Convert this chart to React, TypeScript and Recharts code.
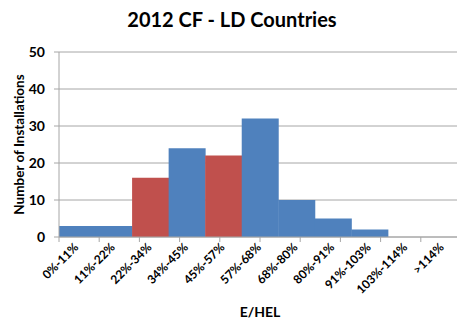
import React from 'react';
import { BarChart, Bar, XAxis, YAxis, CartesianGrid, Cell } from 'recharts';

const categories = ['0%-11%', '11%-22%', '22%-34%', '34%-45%', '45%-57%', '57%-68%', '68%-80%', '80%-91%', '91%-103%', '103%-114%', '>114%'];
const installations = [3, 3, 16, 24, 22, 32, 10, 5, 2, 0, 0];
const highlighted = [false, false, true, false, true, false, false, false, false, false, false];
const yTicks = [0, 10, 20, 30, 40, 50];
const boundaryTicks = [0, 1, 2, 3, 4, 5, 6, 7, 8, 9, 10, 11];

const data = categories.map((c, i) => ({ category: c, count: installations[i], hl: highlighted[i] }));

const FONT = 'Lato, "Open Sans", sans-serif';
const BLUE = '#4F81BD';
const RED = '#C0504D';
const GRID = '#A6A6A6';
const TEXT = '#000000';

const XTick = (props: any) => {
  const { x, y, payload } = props;
  return (
    <g transform={`translate(${x + 2},${y + 10})`}>
      <text x={0} y={0} transform="rotate(-45)" textAnchor="end" fontFamily={FONT} fontWeight={700} fontSize={12} fill={TEXT}>
        {payload.value}
      </text>
    </g>
  );
};

const NoTick = () => <g />;

const YLabel = (props: any) => {
  const vb = props.viewBox || { y: 52, height: 185 };
  const cy = vb.y + vb.height / 2;
  return (
    <text x={24} y={cy} transform={`rotate(-90, 24, ${cy})`} textAnchor="middle" fontFamily={FONT} fontWeight={700} fontSize={13.5} fill={TEXT}>
      Number of Installations
    </text>
  );
};

export default function App() {
  return (
    <div style={{ position: 'absolute', left: 0, top: 0, width: 457, height: 322, overflow: 'hidden', background: '#fff' }}>
      <div style={{ position: 'absolute', left: 0, top: 9, width: 464, textAlign: 'center', fontFamily: FONT, fontWeight: 700, fontSize: 20, lineHeight: '20px', color: TEXT, zIndex: 2 }}>
        2012 CF - LD Countries
      </div>
      <BarChart width={470} height={322} data={data} margin={{ top: 52, right: 9, bottom: 0, left: 0 }} barCategoryGap={0} barGap={0}>
        <CartesianGrid vertical={false} stroke={GRID} xAxisId="b_cat" />
        <XAxis
          xAxisId="a_grid"
          type="number"
          domain={[0, 11]}
          ticks={boundaryTicks}
          allowDataOverflow
          height={1}
          tick={<NoTick />}
          tickSize={5}
          tickLine={{ stroke: GRID }}
          axisLine={{ stroke: GRID }}
        />
        <XAxis
          xAxisId="b_cat"
          dataKey="category"
          height={84}
          interval={0}
          tickSize={0}
          tickMargin={0}
          tickLine={false}
          axisLine={false}
          tick={<XTick />}
          label={{ value: 'E/HEL', position: 'insideBottom', offset: 5, fontFamily: FONT, fontWeight: 700, fontSize: 14, fill: TEXT }}
        />
        <YAxis
          width={59}
          domain={[0, 50]}
          ticks={yTicks}
          interval={0}
          tickSize={5}
          tickMargin={9}
          tickLine={{ stroke: GRID }}
          axisLine={{ stroke: GRID }}
          tick={{ fontFamily: FONT, fontWeight: 700, fontSize: 14, fill: TEXT }}
          label={{ content: <YLabel /> }}
        />
        <Bar dataKey="count" xAxisId="b_cat" isAnimationActive={false}>
          {data.map((d, i) => (
            <Cell key={i} fill={d.hl ? RED : BLUE} />
          ))}
        </Bar>
      </BarChart>
    </div>
  );
}
